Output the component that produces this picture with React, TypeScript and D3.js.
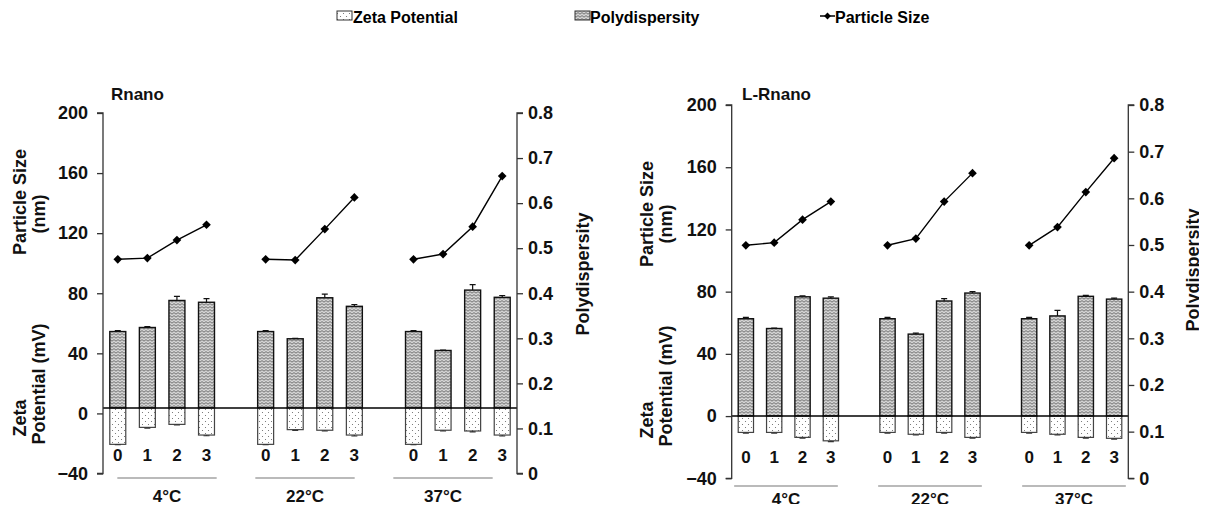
import { useEffect, useRef } from 'react'
import * as d3 from 'd3'

// categories
const stages = ['0', '1', '2', '3']
const temps = ['4°C', '22°C', '37°C']
const leftTicks = [-40, 0, 40, 80, 120, 160, 200]
const rightTicks = [0, 0.1, 0.2, 0.3, 0.4, 0.5, 0.6, 0.7, 0.8]

// Rnano (values in order 4°C 0-3, 22°C 0-3, 37°C 0-3)
const rnanoSize = [102.6, 103.4, 115.4, 125.6, 102.6, 102.1, 122.7, 143.8, 102.6, 106.1, 124.3, 158.0]
const rnanoPdi = [0.315, 0.324, 0.384, 0.380, 0.315, 0.299, 0.390, 0.371, 0.315, 0.273, 0.407, 0.391]
const rnanoPdiErr = [0.002, 0.002, 0.009, 0.008, 0.002, 0.001, 0.008, 0.004, 0.002, 0.001, 0.012, 0.004]
const rnanoZeta = [-20.6, -9.3, -7.3, -14.4, -20.6, -10.8, -11.2, -14.4, -20.6, -11.2, -11.7, -14.4]
const rnanoZetaErr = [0.3, 0.5, 0.4, 0.5, 0.3, 0.5, 0.5, 0.6, 0.3, 0.5, 0.6, 0.6]

// L-Rnano
const lrnanoSize = [109.8, 111.5, 126.3, 137.9, 109.8, 114.1, 137.9, 156.2, 109.8, 121.5, 144.0, 165.8]
const lrnanoPdi = [0.342, 0.321, 0.389, 0.386, 0.342, 0.309, 0.380, 0.397, 0.342, 0.348, 0.390, 0.384]
const lrnanoPdiErr = [0.003, 0.001, 0.002, 0.003, 0.003, 0.002, 0.005, 0.003, 0.003, 0.012, 0.002, 0.002]
const lrnanoZeta = [-10.5, -10.5, -13.7, -15.9, -10.5, -11.7, -10.5, -13.7, -10.5, -11.7, -13.7, -14.3]
const lrnanoZetaErr = [0.5, 0.5, 0.5, 0.5, 0.5, 0.5, 0.5, 0.5, 0.5, 0.5, 0.5, 0.5]

const FONT = "'Liberation Sans', Arial, sans-serif"

const panels = [
  {
    title: 'Rnano', size: rnanoSize, pdi: rnanoPdi, pdiErr: rnanoPdiErr, zeta: rnanoZeta, zetaErr: rnanoZetaErr,
    x0: 103, x1: 517, yTop: 113, yBot: 473.5, base: 3.6,
    titleX: 111, titleY: 100,
    sizeT: [26, 202], nmT: [45, 214], zetaT: [26, 418], potT: [45, 384], polyT: [589, 274],
    numY: 461, lineY: 478, labY: 502, tempRange: [98, 512]
  },
  {
    title: 'L-Rnano', size: lrnanoSize, pdi: lrnanoPdi, pdiErr: lrnanoPdiErr, zeta: lrnanoZeta, zetaErr: lrnanoZetaErr,
    x0: 731.7, x1: 1128.3, yTop: 105, yBot: 478.3, base: 0,
    titleX: 742, titleY: 100,
    sizeT: [653, 214], nmT: [672, 224], zetaT: [653, 420], potT: [672, 386], polyT: [1199, 270],
    numY: 463, lineY: 486, labY: 505, tempRange: [714, 1146]
  }
]

function drawChart(container: SVGSVGElement) {
  const svg = d3.select(container)
  svg.selectAll('*').remove()

  const defs = svg.append('defs')
  const zig = defs.append('pattern').attr('id', 'zig')
    .attr('patternUnits', 'userSpaceOnUse').attr('width', 4).attr('height', 3)
  zig.append('rect').attr('width', 4).attr('height', 3).attr('fill', '#d4d4d4')
  zig.append('path').attr('d', 'M0 2.2 L2 0.6 L4 2.2').attr('fill', 'none')
    .attr('stroke', '#555').attr('stroke-width', 0.8)
  const dots = defs.append('pattern').attr('id', 'dots')
    .attr('patternUnits', 'userSpaceOnUse').attr('width', 6).attr('height', 6)
  dots.append('rect').attr('width', 6).attr('height', 6).attr('fill', '#fff')
  dots.append('circle').attr('cx', 1.5).attr('cy', 1.5).attr('r', 0.55).attr('fill', '#666')
  dots.append('circle').attr('cx', 4.5).attr('cy', 4.5).attr('r', 0.55).attr('fill', '#666')

  // slots: 4 stages per temperature with an empty slot between groups
  const slots: string[] = []
  temps.forEach((t, i) => {
    stages.forEach(s => slots.push(t + '-' + s))
    if (i < temps.length - 1) slots.push('gap' + i)
  })
  const keys = temps.flatMap(t => stages.map(s => t + '-' + s))

  // legend
  const lg = svg.append('g').attr('font-family', FONT).attr('font-weight', 'bold').attr('font-size', 16)
  lg.append('rect').attr('x', 337).attr('y', 11).attr('width', 15).attr('height', 9)
    .attr('fill', 'url(#dots)').attr('stroke', '#333')
  lg.append('text').attr('x', 353).attr('y', 23).text('Zeta Potential')
  lg.append('rect').attr('x', 575).attr('y', 11).attr('width', 15).attr('height', 9)
    .attr('fill', 'url(#zig)').attr('stroke', '#333')
  lg.append('text').attr('x', 590).attr('y', 23).text('Polydispersity')
  lg.append('line').attr('x1', 820).attr('x2', 835).attr('y1', 16).attr('y2', 16).attr('stroke', '#000').attr('stroke-width', 1.5)
  lg.append('path').attr('transform', 'translate(827.5,16)').attr('d', d3.symbol(d3.symbolDiamond2, 30)())
  lg.append('text').attr('x', 835).attr('y', 23).text('Particle Size')

  panels.forEach(p => {
    const g = svg.append('g').attr('font-family', FONT).attr('font-weight', 'bold')
    const x = d3.scaleBand<string>().domain(slots).range([p.x0, p.x1]).paddingInner(0.46).paddingOuter(0.23)
    const yL = d3.scaleLinear().domain([-40, 200]).range([p.yBot, p.yTop])
    const yR = d3.scaleLinear().domain([0, 0.8]).range([p.yBot, p.yTop])
    const xT = d3.scaleBand<string>().domain(temps).range(p.tempRange as [number, number]).paddingInner(0.28).paddingOuter(0.14)
    const bw = x.bandwidth()
    const cx = (k: string) => (x(k) as number) + bw / 2
    const yBase = yL(p.base)

    // polydispersity bars
    g.append('g').selectAll('rect').data(keys).join('rect')
      .attr('x', d => x(d) as number).attr('width', bw)
      .attr('y', (d, i) => yR(p.pdi[i])).attr('height', (d, i) => yBase - yR(p.pdi[i]))
      .attr('fill', 'url(#zig)').attr('stroke', '#111').attr('stroke-width', 1.4)
    g.append('g').selectAll('path').data(keys).join('path')
      .attr('d', (d, i) => {
        const c = cx(d), t = yR(p.pdi[i] + p.pdiErr[i]), b = yR(p.pdi[i])
        return `M${c},${b}V${t}M${c - 3},${t}H${c + 3}`
      })
      .attr('stroke', '#111').attr('stroke-width', 1.2).attr('fill', 'none')

    // zeta potential bars
    g.append('g').selectAll('rect').data(keys).join('rect')
      .attr('x', d => x(d) as number).attr('width', bw)
      .attr('y', yBase).attr('height', (d, i) => yL(p.zeta[i]) - yBase)
      .attr('fill', 'url(#dots)').attr('stroke', '#444').attr('stroke-width', 1.2)
    g.append('g').selectAll('path').data(keys).join('path')
      .attr('d', (d, i) => {
        const c = cx(d), t = yL(p.zeta[i] - p.zetaErr[i]), b = yL(p.zeta[i])
        return `M${c},${b}V${t}M${c - 3},${t}H${c + 3}`
      })
      .attr('stroke', '#333').attr('stroke-width', 1.1).attr('fill', 'none')

    // baseline
    g.append('line').attr('x1', p.x0).attr('x2', p.x1).attr('y1', yBase).attr('y2', yBase)
      .attr('stroke', '#000').attr('stroke-width', 1.5)

    // particle size lines, one per temperature
    temps.forEach((t, ti) => {
      const pts = stages.map((s, si) => [cx(t + '-' + s), yL(p.size[ti * 4 + si])] as [number, number])
      g.append('path').attr('d', d3.line()(pts)).attr('fill', 'none').attr('stroke', '#000').attr('stroke-width', 1.4)
      g.append('g').selectAll('path').data(pts).join('path')
        .attr('transform', d => `translate(${d[0]},${d[1]})`)
        .attr('d', d3.symbol(d3.symbolDiamond2, 48)())
        .attr('fill', '#000')
    })

    // axes
    const axL = g.append('g').attr('transform', `translate(${p.x0},0)`)
      .call(d3.axisLeft(yL).tickValues(leftTicks).tickSize(6).tickPadding(9).tickFormat(d3.format('d')))
    const axR = g.append('g').attr('transform', `translate(${p.x1},0)`)
      .call(d3.axisRight(yR).tickValues(rightTicks).tickSize(6).tickPadding(5).tickFormat(d => (+d === 0 ? '0' : d3.format('.1f')(+d))))
    ;[axL, axR].forEach(a => {
      a.select('.domain').attr('stroke', '#333').attr('stroke-width', 1.3)
      a.selectAll('.tick line').attr('stroke', '#333').attr('stroke-width', 1.3)
      a.selectAll('text').attr('font-family', FONT).attr('font-weight', 'bold').attr('font-size', 18).attr('fill', '#111')
    })
    axL.select('.domain').attr('d', `M-6,${p.yTop}H0V${p.yBot}H-6`)
    axR.select('.domain').attr('d', `M6,${p.yTop}H0V${p.yBot}H6`)

    // stage numbers
    g.append('g').selectAll('text').data(keys).join('text')
      .attr('x', d => cx(d)).attr('y', p.numY).attr('text-anchor', 'middle')
      .attr('font-size', 17).attr('fill', '#111')
      .text(d => d.split('-')[1])

    // temperature groups
    g.append('g').selectAll('line').data(temps).join('line')
      .attr('x1', d => xT(d) as number).attr('x2', d => (xT(d) as number) + xT.bandwidth())
      .attr('y1', p.lineY).attr('y2', p.lineY).attr('stroke', '#777').attr('stroke-width', 1.2)
    g.append('g').selectAll('text').data(temps).join('text')
      .attr('x', d => (xT(d) as number) + xT.bandwidth() / 2).attr('y', p.labY)
      .attr('text-anchor', 'middle').attr('font-size', 17).attr('fill', '#111')
      .text(d => d)

    // titles
    g.append('text').attr('x', p.titleX).attr('y', p.titleY).attr('font-size', 17).attr('fill', '#111').text(p.title)
    const rot = (pos: number[], txt: string) =>
      g.append('text').attr('transform', `translate(${pos[0]},${pos[1]}) rotate(-90)`)
        .attr('text-anchor', 'middle').attr('font-size', 18).attr('fill', '#111').text(txt)
    rot(p.sizeT, 'Particle Size')
    rot(p.nmT, '(nm)')
    rot(p.zetaT, 'Zeta')
    rot(p.potT, 'Potential (mV)')
    rot(p.polyT, 'Polydispersity')
  })
}

export default function App() {
  const ref = useRef<SVGSVGElement>(null)
  useEffect(() => {
    if (ref.current) drawChart(ref.current)
  })
  return (
    <div style={{ margin: -8 }}>
      <svg ref={ref} width={1207} height={512} style={{ display: 'block', background: '#fff' }} />
    </div>
  )
}
